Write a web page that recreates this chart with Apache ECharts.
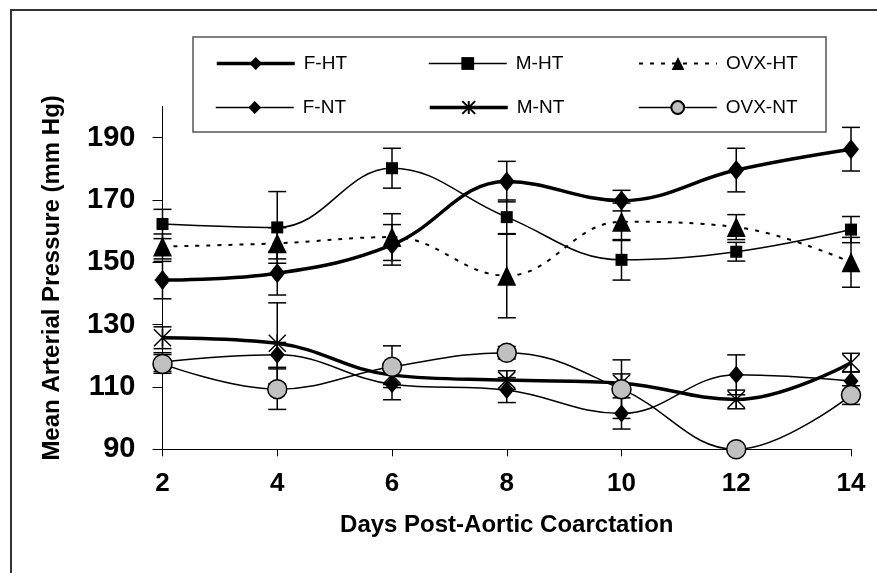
<!DOCTYPE html>
<html>
<head>
<meta charset="utf-8">
<script src="https://cdn.jsdelivr.net/npm/echarts@6/dist/echarts.min.js"></script>
<style>
html,body{margin:0;padding:0;background:#fff;}
#chart{width:877px;height:573px;}
</style>
</head>
<body>
<div id="chart"></div>
<script>
// ---- data ----
var days = [2, 4, 6, 8, 10, 12, 14];
var yTicks = [90, 110, 130, 150, 170, 190];
var xTicks = [2, 4, 6, 8, 10, 12, 14];

var seriesNames = ['F-HT', 'M-HT', 'OVX-HT', 'F-NT', 'M-NT', 'OVX-NT'];

var fHT   = [144.3, 146.5, 155.6, 175.9, 169.8, 179.6, 186.3];
var mHT   = [162.3, 161.2, 180.2, 164.5, 150.8, 153.4, 160.5];
var ovxHT = [155.1, 156.1, 158.1, 145.7, 163.0, 161.3, 150.0];
var fNT   = [118.0, 120.3, 110.9, 109.0, 101.5, 113.9, 111.9];
var mNT   = [125.8, 124.0, 113.8, 112.2, 111.2, 106.0, 117.8];
var ovxNT = [117.4, 109.3, 116.5, 121.0, 109.3, 90.0, 107.4];

// standard errors (half length of error bars)
var fHTErr   = [6.0, 7.0, 6.5, 6.5, 3.3, 7.0, 7.0];
var mHTErr   = [4.7, 11.5, 6.4, 5.5, 6.5, 3.0, 4.2];
var ovxHTErr = [4.0, 5.0, 7.5, 13.5, 6.0, 4.0, 8.0];
var fNTErr   = [3.0, 4.0, 5.0, 4.0, 5.0, 6.4, 3.0];
var mNTErr   = [3.5, 13.0, 3.0, 3.0, 3.0, 3.0, 3.0];
var ovxNTErr = [3.0, 6.5, 6.7, 2.0, 9.4, 1.0, 3.0];

var xTitle = 'Days Post-Aortic Coarctation';
var yTitle = 'Mean Arterial Pressure (mm Hg)';

// ---- build options ----
var FONT = '"Liberation Sans", Arial, sans-serif';
var asterisk = 'path://M0,0L20,20M20,0L0,20M10,0L10,20';

function pairs(vals) {
  return days.map(function (d, i) { return [d, vals[i]]; });
}
function errData(vals, errs) {
  return days.map(function (d, i) { return [d, vals[i], errs[i]]; });
}
function errorSeries(vals, errs) {
  return {
    type: 'custom',
    silent: true,
    z: 1,
    encode: { x: 0, y: 1 },
    data: errData(vals, errs),
    renderItem: function (params, api) {
      var x = api.value(0), y = api.value(1), e = api.value(2);
      var hi = api.coord([x, y + e]);
      var lo = api.coord([x, y - e]);
      var w = 9;
      var st = { stroke: '#000', lineWidth: 1.5 };
      return {
        type: 'group',
        children: [
          { type: 'line', shape: { x1: hi[0], y1: hi[1], x2: lo[0], y2: lo[1] }, style: st },
          { type: 'line', shape: { x1: hi[0] - w, y1: hi[1], x2: hi[0] + w, y2: hi[1] }, style: st },
          { type: 'line', shape: { x1: lo[0] - w, y1: lo[1], x2: lo[0] + w, y2: lo[1] }, style: st }
        ]
      };
    }
  };
}
var styles = [
  { symbol: 'diamond', size: [16, 20], width: 3.5 },
  { symbol: 'rect', size: 12, width: 1.5 },
  { symbol: 'triangle', size: [19, 20], width: 2, dash: [4, 7] },
  { symbol: 'diamond', size: [15, 18], width: 1.5 },
  { symbol: asterisk, size: 17, width: 3.5, fill: 'none', border: 1.5 },
  { symbol: 'circle', size: 19, width: 1.5, fill: '#c0c0c0', border: 1.5 }
];
function lineSeries(name, vals, opts) {
  return {
    name: name,
    type: 'line',
    z: 3,
    smooth: 0.4,
    data: pairs(vals),
    symbol: opts.symbol,
    symbolSize: opts.size,
    showAllSymbol: true,
    lineStyle: { color: '#000', width: opts.width, type: opts.dash || 'solid' },
    itemStyle: {
      color: opts.fill || '#000',
      borderColor: '#000',
      borderWidth: opts.border || 0
    },
    emphasis: { disabled: true },
    animation: false
  };
}

var valueSets = [fHT, mHT, ovxHT, fNT, mNT, ovxNT];
var errSets = [fHTErr, mHTErr, ovxHTErr, fNTErr, mNTErr, ovxNTErr];
var series = [];
errSets.forEach(function (e, i) { series.push(errorSeries(valueSets[i], e)); });
seriesNames.forEach(function (n, i) { series.push(lineSeries(n, valueSets[i], styles[i])); });

var legendPos = [
  { left: 215, top: 54 }, { left: 428, top: 54 }, { left: 638, top: 54 },
  { left: 215, top: 98 }, { left: 428, top: 98 }, { left: 638, top: 98 }
];
var legends = seriesNames.map(function (n, i) {
  var s = styles[i];
  return {
    data: [n],
    left: legendPos[i].left,
    top: legendPos[i].top,
    itemWidth: 78,
    itemHeight: 16,
    padding: 0,
    itemGap: 0,
    selectedMode: false,
    lineStyle: { width: s.width, color: '#000', type: s.dash || 'solid' },
    textStyle: { fontFamily: FONT, fontSize: 19, color: '#000', padding: [0, 0, 0, 4] }
  };
});

var option = {
  animation: false,
  backgroundColor: '#fff',
  grid: { left: 162.5, right: 26, top: 106.5, bottom: 123.7, containLabel: false },
  legend: legends,
  xAxis: {
    type: 'value',
    min: 2, max: 14, interval: 2,
    name: xTitle,
    nameLocation: 'middle',
    nameGap: 64,
    nameTextStyle: { fontFamily: FONT, fontSize: 24, fontWeight: 'bold', color: '#000' },
    axisLine: { show: true, lineStyle: { color: '#000', width: 1 } },
    axisTick: { show: true, length: 7, lineStyle: { color: '#000' }, customValues: xTicks },
    axisLabel: { margin: 22, fontFamily: FONT, fontSize: 26, fontWeight: 'bold', color: '#000', customValues: xTicks },
    splitLine: { show: false }
  },
  yAxis: {
    type: 'value',
    min: 90, max: 200,
    name: yTitle,
    nameLocation: 'middle',
    nameRotate: 90,
    nameGap: 98,
    nameTextStyle: { fontFamily: FONT, fontSize: 24, fontWeight: 'bold', color: '#000' },
    axisLine: { show: true, lineStyle: { color: '#000', width: 1 } },
    axisTick: { show: true, length: 10, lineStyle: { color: '#000' }, customValues: yTicks },
    axisLabel: { margin: 27, fontFamily: FONT, fontSize: 29, fontWeight: 'bold', color: '#000', customValues: yTicks },
    splitLine: { show: false }
  },
  graphic: [
    { type: 'rect', z: 0, shape: { x: 193, y: 37, width: 633, height: 95 },
      style: { fill: '#fff', stroke: '#555', lineWidth: 1.5 } },
    { type: 'polyline', z: 0, shape: { points: [[11, 573], [11, 10], [877, 10]] },
      style: { fill: 'none', stroke: '#333', lineWidth: 2 } }
  ],
  series: series
};

var chart = echarts.init(document.getElementById('chart'), null, { renderer: 'canvas' });
chart.setOption(option);
</script>
</body>
</html>
